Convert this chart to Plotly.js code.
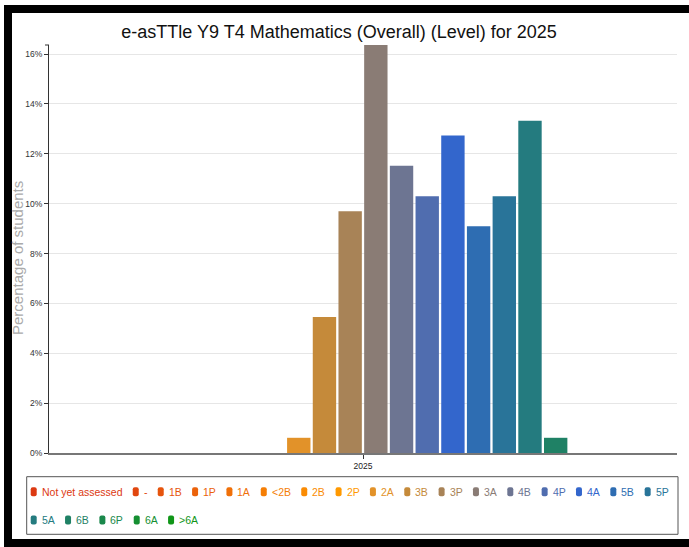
<!DOCTYPE html>
<html>
<head>
<meta charset="utf-8">
<script src="https://cdn.plot.ly/plotly-3.0.1.min.js"></script>
<style>
  html, body { margin: 0; padding: 0; background: #ffffff; }
  #wrap { position: relative; width: 689px; height: 547px; overflow: hidden; }
  #frame { position: absolute; left: 4px; top: 5px; width: 685px; height: 542px; box-sizing: border-box;
           border-left: 8px solid #000; border-top: 8px solid #000; border-bottom: 8px solid #000; z-index: 0; }
  #chart { position: absolute; left: 0; top: 0; width: 689px; height: 547px; z-index: 1; }
</style>
</head>
<body>
<div id="wrap"><div id="frame"></div><div id="chart"></div></div>
<script>
// ---- data ----
const categories = ['Not yet assessed', '-', '1B', '1P', '1A', '<2B', '2B', '2P', '2A', '3B', '3P',
                    '3A', '4B', '4P', '4A', '5B', '5P', '5A', '6B', '6P', '6A', '>6A'];
const percentages = [0, 0, 0, 0, 0, 0, 0, 0, 0.61, 5.45, 9.70,
                     16.36, 11.52, 10.30, 12.73, 9.09, 10.30, 13.33, 0.61, 0, 0, 0];
const years = ['2025'];
const yTickValues = [0, 2, 4, 6, 8, 10, 12, 14, 16];
const yTickLabels = ['0%', '2%', '4%', '6%', '8%', '10%', '12%', '14%', '16%'];
const colors = ['#DC3912', '#E1470F', '#E6540D', '#EB620A', '#F07008', '#F57E05', '#FA8B03', '#FF9900',
                '#E29229', '#C58A3A', '#A88357', '#8A7C75', '#6D7592', '#506DAF', '#3366CC',
                '#2E6DB2', '#297499', '#247B7F', '#1F8165', '#1A884B', '#158F32', '#109618'];
const chartTitle = 'e-asTTle Y9 T4 Mathematics (Overall) (Level) for 2025';
const yTitle = 'Percentage of students';

// ---- geometry ----
const W = 689, H = 547, ML = 49, MR = 12, MT = 45, MB = 94;
const PW = W - ML - MR, PH = H - MT - MB;
const px2x = p => (p - ML) / PW;
const py2y = p => (H - MB - p) / PH;

const REG = "'Liberation Sans', Arial, sans-serif";
const LEG_SIZE = 10.5;

const esc = s => s.replace(/&/g, '&amp;').replace(/</g, '&lt;').replace(/>/g, '&gt;');

const traces = categories.map((c, i) => ({
  type: 'bar',
  name: esc(c),
  x: years,
  y: [percentages[i]],
  marker: { color: colors[i], line: { width: 0 } },
  showlegend: false,
  hovertemplate: esc(c) + ': %{y:.2f}%<extra></extra>'
}));

// ---- custom legend (annotations + shapes) ----
const ctx = document.createElement('canvas').getContext('2d');
ctx.font = LEG_SIZE + "px " + REG;
const shapes = [];
const annotations = [];

function rrect(x0, y0, x1, y1, r) {
  const X = px2x, Y = py2y;
  return 'M' + X(x0 + r) + ',' + Y(y0) +
    ' L' + X(x1 - r) + ',' + Y(y0) + ' Q' + X(x1) + ',' + Y(y0) + ' ' + X(x1) + ',' + Y(y0 + r) +
    ' L' + X(x1) + ',' + Y(y1 - r) + ' Q' + X(x1) + ',' + Y(y1) + ' ' + X(x1 - r) + ',' + Y(y1) +
    ' L' + X(x0 + r) + ',' + Y(y1) + ' Q' + X(x0) + ',' + Y(y1) + ' ' + X(x0) + ',' + Y(y1 - r) +
    ' L' + X(x0) + ',' + Y(y0 + r) + ' Q' + X(x0) + ',' + Y(y0) + ' ' + X(x0 + r) + ',' + Y(y0) + ' Z';
}

// legend box
shapes.push({ type: 'rect', xref: 'paper', yref: 'paper',
  x0: px2x(26.7), x1: px2x(678), y0: py2y(534.3), y1: py2y(476.7),
  line: { color: '#555', width: 1 }, fillcolor: 'rgba(0,0,0,0)', layer: 'above' });

// y axis top end cap
shapes.push({ type: 'line', xref: 'paper', yref: 'paper',
  x0: px2x(45), x1: 0, y0: 1, y1: 1, line: { color: '#333', width: 1 } });

const rowY = [491.7, 520];
let lx = 30.7, row = 0;
categories.forEach((c, i) => {
  const tw = ctx.measureText(c).width;
  if (lx + 10 + tw > 676) { row += 1; lx = 30.7; }
  const cy = rowY[row];
  shapes.push({ type: 'path', xref: 'paper', yref: 'paper',
    path: rrect(lx, cy - 4.5, lx + 6, cy + 4.5, 2),
    fillcolor: colors[i], line: { width: 0 }, layer: 'above' });
  annotations.push({ xref: 'paper', yref: 'paper', x: px2x(lx + 9), y: py2y(cy),
    xanchor: 'left', yanchor: 'middle', showarrow: false, text: esc(c),
    font: { family: REG, size: LEG_SIZE, color: colors[i] } });
  lx += 10 + tw + 11.5;
});

// y-axis title
annotations.push({ xref: 'paper', yref: 'paper', x: px2x(17.5), y: py2y(258.5),
  xanchor: 'center', yanchor: 'middle', textangle: -90, showarrow: false, text: yTitle,
  font: { family: REG, size: 15, color: '#aaaaaa' } });

const layout = {
  width: W, height: H,
  margin: { l: ML, r: MR, t: MT, b: MB, pad: 0 },
  paper_bgcolor: 'rgba(0,0,0,0)',
  plot_bgcolor: 'rgba(0,0,0,0)',
  barmode: 'group',
  bargap: 0.1,
  bargroupgap: 0.09,
  showlegend: false,
  title: { text: chartTitle, xref: 'container', x: 339 / W, xanchor: 'center',
           yref: 'container', y: (H - 31.5) / H, yanchor: 'middle',
           font: { family: REG, size: 18, color: '#111' } },
  xaxis: { type: 'category', showline: true, linecolor: '#777', linewidth: 1.5,
           ticks: 'outside', ticklen: 4, tickcolor: '#333', tickwidth: 1,
           tickfont: { family: REG, size: 8.5, color: '#222' },
           showgrid: false, zeroline: false, fixedrange: true },
  yaxis: { range: [0, 16.364], tickvals: yTickValues, ticktext: yTickLabels,
           showline: true, linecolor: '#333', linewidth: 1,
           ticks: 'outside', ticklen: 4, tickcolor: '#333', tickwidth: 1,
           tickfont: { family: REG, size: 8.5, color: '#333' },
           showgrid: true, gridcolor: '#e6e6e6', gridwidth: 1, zeroline: false, fixedrange: true },
  shapes: shapes,
  annotations: annotations
};

Plotly.newPlot('chart', traces, layout, { displayModeBar: false, staticPlot: true });
</script>
</body>
</html>
